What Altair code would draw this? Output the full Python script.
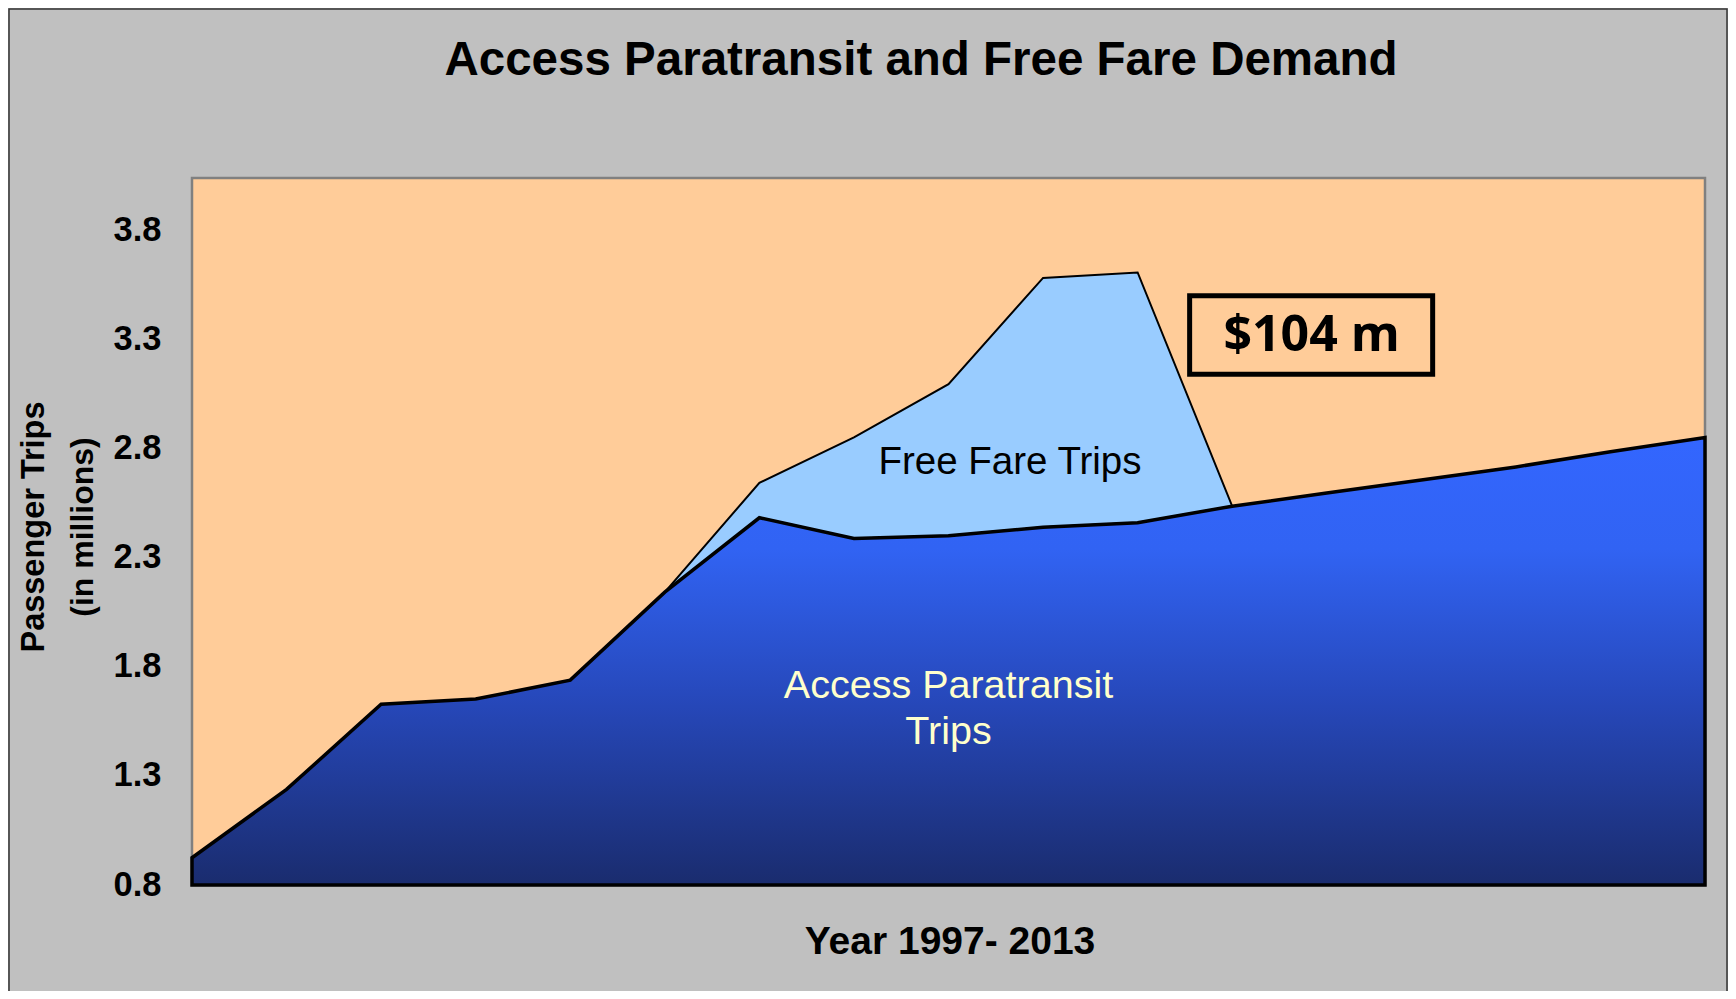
import altair as alt
import pandas as pd

# ---- data ----
years = list(range(1997, 2014))
access_trips = [0.925, 1.238, 1.628, 1.652, 1.739, 2.142, 2.483, 2.388, 2.400,
                2.439, 2.460, 2.536, 2.596, 2.656, 2.716, 2.785, 2.851]
free_fare_trips = [0, 0, 0, 0, 0, 0.0, 0.160, 0.463, 0.695,
                   1.143, 1.147, 0.0, 0, 0, 0, 0, 0]
y_ticks = [0.8, 1.3, 1.8, 2.3, 2.8, 3.3, 3.8]
y_domain = [0.8, 4.04]

title_text = "Access Paratransit and Free Fare Demand"
x_title = "Year 1997- 2013"
y_title = ["Passenger Trips", "(in millions)"]

# annotation anchors (data coordinates)
box_x = [2007.55]
box_x2 = [2010.12]
box_y = [3.50]
box_y2 = [3.141]
box_label = ["$104 m"]
box_label_x = [2008.84]
box_label_y = [3.318]

ff_label = ["Free Fare Trips"]
ff_label_x = [2005.65]
ff_label_y = [2.74]

ap_label = ["Access Paratransit", "Trips"]
ap_label_x = [2005.0, 2005.0]
ap_label_y = [1.71, 1.502]

# ---- tables ----
df = pd.DataFrame({"year": years, "access": access_trips, "free": free_fare_trips})
df["total"] = df["access"] + df["free"]
df["base"] = y_domain[0]
ff = df[(df["year"] >= 2002) & (df["year"] <= 2008)]

W, H = 1513, 707
xs = alt.Scale(domain=[years[0], years[-1]], nice=False, zero=False)
ys = alt.Scale(domain=y_domain, nice=False, zero=False)

FONT = "Liberation Sans"

free_area = alt.Chart(ff).mark_area(
    fill="#99CCFF", stroke="black", strokeWidth=2, strokeJoin="miter"
).encode(
    x=alt.X("year:Q", scale=xs, axis=None),
    y=alt.Y("total:Q", scale=ys,
            axis=alt.Axis(values=y_ticks, format=".1f", title=None, grid=False,
                          ticks=False, domain=False, labelFont=FONT,
                          labelFontWeight="bold", labelFontSize=34.5,
                          labelColor="black", labelPadding=31)),
    y2="access:Q",
)

grad = alt.Gradient(
    gradient="linear",
    stops=[alt.GradientStop(color="#3366FF", offset=0),
           alt.GradientStop(color="#3163F3", offset=0.25),
           alt.GradientStop(color="#2647B8", offset=0.6),
           alt.GradientStop(color="#1A2C6E", offset=1)],
    x1=0, x2=0, y1=0, y2=1,
)

access_area = alt.Chart(df).mark_area(
    fill=grad, stroke="black", strokeWidth=3.5, strokeJoin="miter"
).encode(
    x=alt.X("year:Q", scale=xs),
    y=alt.Y("access:Q", scale=ys),
    y2="base:Q",
)

box_df = pd.DataFrame({"x": box_x, "x2": box_x2, "y": box_y, "y2": box_y2})
box = alt.Chart(box_df).mark_rect(
    fillOpacity=0, stroke="black", strokeWidth=5
).encode(
    x=alt.X("x:Q", scale=xs), x2="x2:Q",
    y=alt.Y("y:Q", scale=ys), y2="y2:Q",
)

box_txt = alt.Chart(pd.DataFrame({"t": box_label, "x": box_label_x, "y": box_label_y})).mark_text(
    font="Open Sans", fontWeight="bold", fontSize=50, color="black",
    align="center", baseline="middle"
).encode(x=alt.X("x:Q", scale=xs), y=alt.Y("y:Q", scale=ys), text="t:N")

ff_txt = alt.Chart(pd.DataFrame({"t": ff_label, "x": ff_label_x, "y": ff_label_y})).mark_text(
    font=FONT, fontSize=38.5, color="black", align="center", baseline="middle"
).encode(x=alt.X("x:Q", scale=xs), y=alt.Y("y:Q", scale=ys), text="t:N")

ap_txt = alt.Chart(pd.DataFrame({"t": ap_label, "x": ap_label_x, "y": ap_label_y})).mark_text(
    font=FONT, fontSize=39.5, color="#FFFFCC", align="center", baseline="middle"
).encode(x=alt.X("x:Q", scale=xs), y=alt.Y("y:Q", scale=ys), text="t:N")

one = pd.DataFrame({"t": [title_text]})
title_mark = alt.Chart(one).mark_text(
    font=FONT, fontWeight="bold", fontSize=47.5, color="black",
    align="center", baseline="middle"
).encode(x=alt.value(729), y=alt.value(-117), text="t:N")

xt = alt.Chart(pd.DataFrame({"t": [x_title]})).mark_text(
    font=FONT, fontWeight="bold", fontSize=39, color="black",
    align="center", baseline="middle"
).encode(x=alt.value(758), y=alt.value(764), text="t:N")

yt1 = alt.Chart(pd.DataFrame({"t": [y_title[0]]})).mark_text(
    font=FONT, fontWeight="bold", fontSize=32.5, color="black",
    align="center", baseline="middle", angle=270
).encode(x=alt.value(-158), y=alt.value(349), text="t:N")

yt2 = alt.Chart(pd.DataFrame({"t": [y_title[1]]})).mark_text(
    font=FONT, fontWeight="bold", fontSize=32, color="black",
    align="center", baseline="middle", angle=270
).encode(x=alt.value(-109), y=alt.value(349), text="t:N")

frame = alt.Chart(pd.DataFrame({"t": [1]})).mark_rect(
    fillOpacity=0, stroke="#333333", strokeWidth=1.5
).encode(x=alt.value(-183), x2=alt.value(1535), y=alt.value(-169), y2=alt.value(900))

chart = alt.layer(
    frame, free_area, access_area, box, box_txt, ff_txt, ap_txt,
    title_mark, xt, yt1, yt2
).properties(
    width=W, height=H,
    autosize=alt.AutoSizeParams(type="none"),
    padding={"left": 184, "top": 170, "right": 23, "bottom": 106},
    background="#C0C0C0",
).configure_view(
    fill="#FFCC99", stroke="#808080", strokeWidth=2.5
)

chart.save("out.html", embed_options={"renderer": "svg", "actions": False})
